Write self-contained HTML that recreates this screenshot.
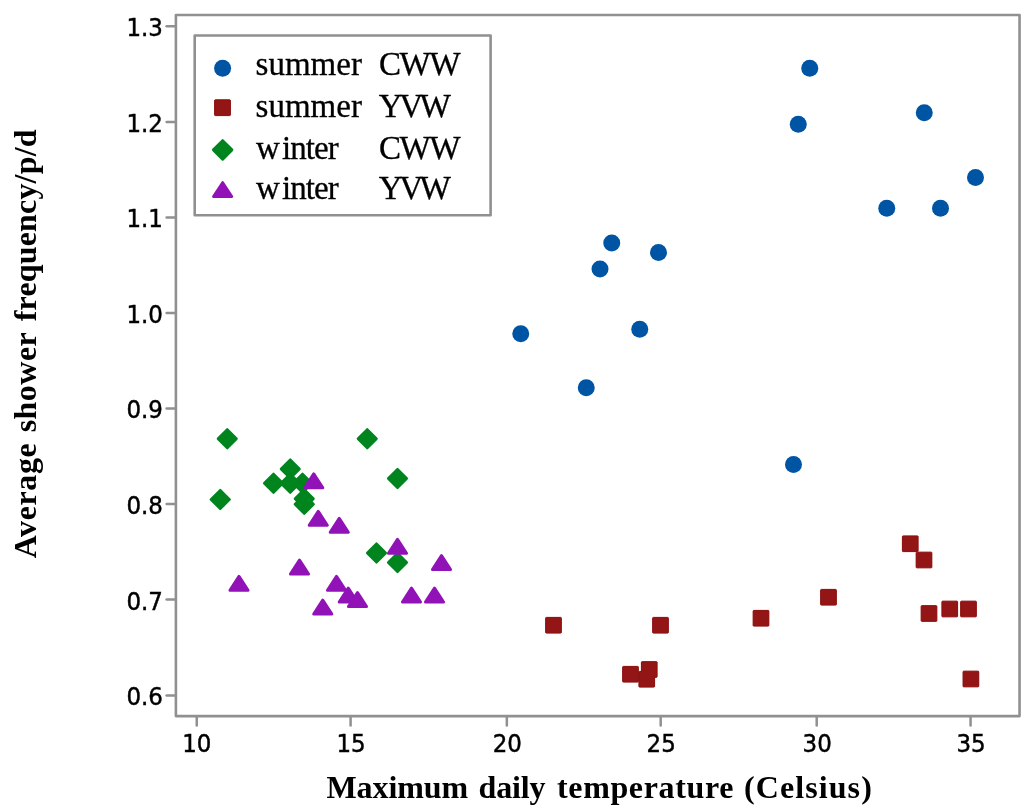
<!DOCTYPE html>
<html lang="en">
<head>
<meta charset="utf-8">
<title>Average shower frequency vs maximum daily temperature</title>
<style>
html,body{margin:0;padding:0;background:#fff;}
body{width:1024px;height:810px;overflow:hidden;}
svg{display:block;will-change:transform;}
.tick{font-family:"DejaVu Sans Condensed","DejaVu Sans","Liberation Sans",sans-serif;font-stretch:condensed;font-size:25.5px;fill:#000;stroke:#000;stroke-width:0.45px;}
.leg{font-family:"Liberation Serif",serif;font-size:33px;fill:#000;stroke:#000;stroke-width:0.3px;}
.ttl{font-family:"Liberation Serif",serif;font-size:32px;font-weight:bold;fill:#000;}
</style>
</head>
<body>
<svg width="1024" height="810" viewBox="0 0 1024 810">
<rect x="0" y="0" width="1024" height="810" fill="#ffffff"/>

<rect x="175.9" y="14.95" width="843.65" height="701.15" fill="none" stroke="#909090" stroke-width="2.6" stroke-linejoin="round"/>
<g stroke="#909090" stroke-width="2.5" stroke-linecap="round">
<line x1="166.6" y1="26.25" x2="174.9" y2="26.25"/>
<line x1="166.6" y1="121.90" x2="174.9" y2="121.90"/>
<line x1="166.6" y1="217.40" x2="174.9" y2="217.40"/>
<line x1="166.6" y1="313.00" x2="174.9" y2="313.00"/>
<line x1="166.6" y1="408.40" x2="174.9" y2="408.40"/>
<line x1="166.6" y1="503.90" x2="174.9" y2="503.90"/>
<line x1="166.6" y1="599.60" x2="174.9" y2="599.60"/>
<line x1="166.6" y1="695.40" x2="174.9" y2="695.40"/>
<line x1="196.76" y1="717.1" x2="196.76" y2="725.6"/>
<line x1="350.60" y1="717.1" x2="350.60" y2="725.6"/>
<line x1="506.84" y1="717.1" x2="506.84" y2="725.6"/>
<line x1="660.69" y1="717.1" x2="660.69" y2="725.6"/>
<line x1="816.70" y1="717.1" x2="816.70" y2="725.6"/>
<line x1="970.57" y1="717.1" x2="970.57" y2="725.6"/>
</g>
<g class="tick" text-anchor="end">
<text x="162.9" y="36.25">1.3</text>
<text x="162.9" y="131.90">1.2</text>
<text x="162.9" y="227.40">1.1</text>
<text x="162.9" y="323.00">1.0</text>
<text x="162.9" y="418.40">0.9</text>
<text x="162.9" y="513.90">0.8</text>
<text x="162.9" y="609.60">0.7</text>
<text x="162.9" y="705.40">0.6</text>
</g>
<g class="tick" text-anchor="middle">
<text x="196.76" y="752">10</text>
<text x="351.10" y="752">15</text>
<text x="507.34" y="752">20</text>
<text x="661.19" y="752">25</text>
<text x="817.20" y="752">30</text>
<text x="971.07" y="752">35</text>
</g>
<rect x="194.7" y="35.5" width="295.90" height="179.70" fill="#fff" stroke="#909090" stroke-width="2.6" stroke-linejoin="round"/>
<circle cx="222.6" cy="68.2" r="8.5" fill="#0054A4"/>
<rect x="214.60" y="99.80" width="15.8" height="15.8" rx="0.7" fill="#941515" stroke="#8A0C0C" stroke-width="1"/>
<polygon points="222.65,140.70000000000002 231.85,149.9 222.65,159.1 213.45000000000002,149.9" fill="#00841E" stroke="#00841E" stroke-width="3" stroke-linejoin="round"/>
<polygon points="222.65,182.70000000000002 231.70000000000002,196.5 213.6,196.5" fill="#9112B6" stroke="#9112B6" stroke-width="3" stroke-linejoin="round"/>
<g class="leg">
<text x="255.6" y="75.0">summer</text>
<text x="378.9" y="75.0" style="letter-spacing:-1.3px">CWW</text>
<text x="255.6" y="117.0">summer</text>
<text x="378.8" y="117.0" style="letter-spacing:-3.4px">YVW</text>
<text x="255.9" y="158.8">w<tspan dx="2.2" style="letter-spacing:-0.9px">inter</tspan></text>
<text x="378.9" y="158.8" style="letter-spacing:-1.3px">CWW</text>
<text x="255.9" y="198.6">w<tspan dx="2.2" style="letter-spacing:-0.9px">inter</tspan></text>
<text x="378.8" y="198.6" style="letter-spacing:-3.4px">YVW</text>
</g>
<g>
<circle cx="809.75" cy="68.25" r="8.5" fill="#0054A4"/>
<circle cx="798.25" cy="124.25" r="8.5" fill="#0054A4"/>
<circle cx="924.25" cy="112.75" r="8.5" fill="#0054A4"/>
<circle cx="975.5" cy="177.5" r="8.5" fill="#0054A4"/>
<circle cx="886.75" cy="208.25" r="8.5" fill="#0054A4"/>
<circle cx="940.5" cy="208.25" r="8.5" fill="#0054A4"/>
<circle cx="611.75" cy="243" r="8.5" fill="#0054A4"/>
<circle cx="658.5" cy="252.5" r="8.5" fill="#0054A4"/>
<circle cx="600" cy="269" r="8.5" fill="#0054A4"/>
<circle cx="520.75" cy="333.75" r="8.5" fill="#0054A4"/>
<circle cx="639.75" cy="329.25" r="8.5" fill="#0054A4"/>
<circle cx="586.25" cy="387.75" r="8.5" fill="#0054A4"/>
<circle cx="793.5" cy="464.5" r="8.5" fill="#0054A4"/>
<rect x="902.40" y="535.90" width="15.7" height="15.7" rx="0.7" fill="#941515" stroke="#8A0C0C" stroke-width="1"/>
<rect x="916.15" y="552.15" width="15.7" height="15.7" rx="0.7" fill="#941515" stroke="#8A0C0C" stroke-width="1"/>
<rect x="820.65" y="589.40" width="15.7" height="15.7" rx="0.7" fill="#941515" stroke="#8A0C0C" stroke-width="1"/>
<rect x="921.15" y="605.65" width="15.7" height="15.7" rx="0.7" fill="#941515" stroke="#8A0C0C" stroke-width="1"/>
<rect x="941.90" y="601.15" width="15.7" height="15.7" rx="0.7" fill="#941515" stroke="#8A0C0C" stroke-width="1"/>
<rect x="960.65" y="601.15" width="15.7" height="15.7" rx="0.7" fill="#941515" stroke="#8A0C0C" stroke-width="1"/>
<rect x="545.65" y="617.40" width="15.7" height="15.7" rx="0.7" fill="#941515" stroke="#8A0C0C" stroke-width="1"/>
<rect x="652.65" y="617.40" width="15.7" height="15.7" rx="0.7" fill="#941515" stroke="#8A0C0C" stroke-width="1"/>
<rect x="753.15" y="610.40" width="15.7" height="15.7" rx="0.7" fill="#941515" stroke="#8A0C0C" stroke-width="1"/>
<rect x="622.65" y="666.40" width="15.7" height="15.7" rx="0.7" fill="#941515" stroke="#8A0C0C" stroke-width="1"/>
<rect x="638.90" y="671.40" width="15.7" height="15.7" rx="0.7" fill="#941515" stroke="#8A0C0C" stroke-width="1"/>
<rect x="641.40" y="661.65" width="15.7" height="15.7" rx="0.7" fill="#941515" stroke="#8A0C0C" stroke-width="1"/>
<rect x="963.05" y="671.15" width="15.7" height="15.7" rx="0.7" fill="#941515" stroke="#8A0C0C" stroke-width="1"/>
<rect x="902.90" y="536.40" width="14.7" height="14.7" fill="#941515"/>
<rect x="916.65" y="552.65" width="14.7" height="14.7" fill="#941515"/>
<rect x="821.15" y="589.90" width="14.7" height="14.7" fill="#941515"/>
<rect x="921.65" y="606.15" width="14.7" height="14.7" fill="#941515"/>
<rect x="942.40" y="601.65" width="14.7" height="14.7" fill="#941515"/>
<rect x="961.15" y="601.65" width="14.7" height="14.7" fill="#941515"/>
<rect x="546.15" y="617.90" width="14.7" height="14.7" fill="#941515"/>
<rect x="653.15" y="617.90" width="14.7" height="14.7" fill="#941515"/>
<rect x="753.65" y="610.90" width="14.7" height="14.7" fill="#941515"/>
<rect x="623.15" y="666.90" width="14.7" height="14.7" fill="#941515"/>
<rect x="639.40" y="671.90" width="14.7" height="14.7" fill="#941515"/>
<rect x="641.90" y="662.15" width="14.7" height="14.7" fill="#941515"/>
<rect x="963.55" y="671.65" width="14.7" height="14.7" fill="#941515"/>
<polygon points="227.25,429.7 236.3,438.75 227.25,447.8 218.2,438.75" fill="#00841E" stroke="#00841E" stroke-width="3" stroke-linejoin="round"/>
<polygon points="367.25,429.7 376.3,438.75 367.25,447.8 358.2,438.75" fill="#00841E" stroke="#00841E" stroke-width="3" stroke-linejoin="round"/>
<polygon points="397.5,469.45 406.55,478.5 397.5,487.55 388.45,478.5" fill="#00841E" stroke="#00841E" stroke-width="3" stroke-linejoin="round"/>
<polygon points="220.25,490.45 229.3,499.5 220.25,508.55 211.2,499.5" fill="#00841E" stroke="#00841E" stroke-width="3" stroke-linejoin="round"/>
<polygon points="273.5,474.2 282.55,483.25 273.5,492.3 264.45,483.25" fill="#00841E" stroke="#00841E" stroke-width="3" stroke-linejoin="round"/>
<polygon points="302.5,474.2 311.55,483.25 302.5,492.3 293.45,483.25" fill="#00841E" stroke="#00841E" stroke-width="3" stroke-linejoin="round"/>
<polygon points="290.25,474.2 299.3,483.25 290.25,492.3 281.2,483.25" fill="#00841E" stroke="#00841E" stroke-width="3" stroke-linejoin="round"/>
<polygon points="290.25,459.95 299.3,469 290.25,478.05 281.2,469" fill="#00841E" stroke="#00841E" stroke-width="3" stroke-linejoin="round"/>
<polygon points="304.25,495.2 313.3,504.25 304.25,513.3 295.2,504.25" fill="#00841E" stroke="#00841E" stroke-width="3" stroke-linejoin="round"/>
<polygon points="304.25,489.7 313.3,498.75 304.25,507.8 295.2,498.75" fill="#00841E" stroke="#00841E" stroke-width="3" stroke-linejoin="round"/>
<polygon points="376.5,543.95 385.55,553 376.5,562.05 367.45,553" fill="#00841E" stroke="#00841E" stroke-width="3" stroke-linejoin="round"/>
<polygon points="397.5,553.45 406.55,562.5 397.5,571.55 388.45,562.5" fill="#00841E" stroke="#00841E" stroke-width="3" stroke-linejoin="round"/>
<polygon points="313.75,473.9 322.8,487.7 304.7,487.7" fill="#9112B6" stroke="#9112B6" stroke-width="3" stroke-linejoin="round"/>
<polygon points="318.25,511.4 327.3,525.2 309.2,525.2" fill="#9112B6" stroke="#9112B6" stroke-width="3" stroke-linejoin="round"/>
<polygon points="339.25,518.4 348.3,532.2 330.2,532.2" fill="#9112B6" stroke="#9112B6" stroke-width="3" stroke-linejoin="round"/>
<polygon points="397.5,539.4 406.55,553.2 388.45,553.2" fill="#9112B6" stroke="#9112B6" stroke-width="3" stroke-linejoin="round"/>
<polygon points="441.5,555.65 450.55,569.45 432.45,569.45" fill="#9112B6" stroke="#9112B6" stroke-width="3" stroke-linejoin="round"/>
<polygon points="299.5,560.15 308.55,573.95 290.45,573.95" fill="#9112B6" stroke="#9112B6" stroke-width="3" stroke-linejoin="round"/>
<polygon points="239,576.4 248.05,590.2 229.95,590.2" fill="#9112B6" stroke="#9112B6" stroke-width="3" stroke-linejoin="round"/>
<polygon points="336.5,576.4 345.55,590.2 327.45,590.2" fill="#9112B6" stroke="#9112B6" stroke-width="3" stroke-linejoin="round"/>
<polygon points="348.25,588.15 357.3,601.95 339.2,601.95" fill="#9112B6" stroke="#9112B6" stroke-width="3" stroke-linejoin="round"/>
<polygon points="357.5,592.65 366.55,606.45 348.45,606.45" fill="#9112B6" stroke="#9112B6" stroke-width="3" stroke-linejoin="round"/>
<polygon points="322.75,600.15 331.8,613.95 313.7,613.95" fill="#9112B6" stroke="#9112B6" stroke-width="3" stroke-linejoin="round"/>
<polygon points="411.5,588.15 420.55,601.95 402.45,601.95" fill="#9112B6" stroke="#9112B6" stroke-width="3" stroke-linejoin="round"/>
<polygon points="434.5,588.15 443.55,601.95 425.45,601.95" fill="#9112B6" stroke="#9112B6" stroke-width="3" stroke-linejoin="round"/>
</g>
<g class="ttl">
<text x="326.50" y="797.8" textLength="141.60" lengthAdjust="spacing">Maximum</text>
<text x="478.60" y="797.8" textLength="67.00" lengthAdjust="spacing">daily</text>
<text x="557.00" y="797.8" textLength="176.40" lengthAdjust="spacing">temperature</text>
<text x="744.10" y="797.8" textLength="127.70" lengthAdjust="spacing">(Celsius)</text>
<text transform="translate(35.8,558.30) rotate(-90)" textLength="115.00" lengthAdjust="spacing">Average</text>
<text transform="translate(35.8,432.30) rotate(-90)" textLength="100.10" lengthAdjust="spacing">shower</text>
<text transform="translate(35.8,321.20) rotate(-90)" textLength="191.70" lengthAdjust="spacing">frequency/p/d</text>
</g>
</svg>
</body>
</html>
